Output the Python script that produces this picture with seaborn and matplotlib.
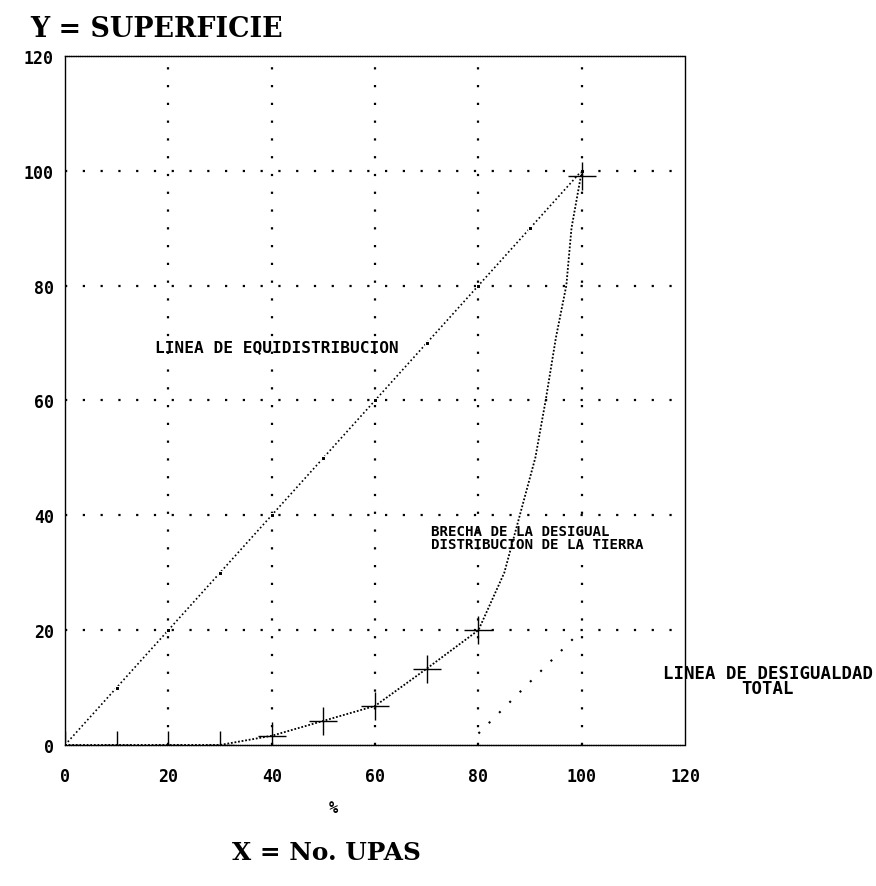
import matplotlib
matplotlib.use("Agg")
import matplotlib.pyplot as plt
import seaborn as sns
import pandas as pd

# ======================
# Data
# ======================
equi_x = [0, 10, 20, 30, 40, 50, 60, 70, 80, 90, 100]
equi_y = [0, 10, 20, 30, 40, 50, 60, 70, 80, 90, 100]

lorenz_x = [0, 10, 20, 30, 40, 50, 60, 70, 80, 85, 88, 91, 93, 95, 97, 98, 100]
lorenz_y = [0, 0, 0, 0, 1.6, 4.2, 6.8, 13.3, 20, 30, 40, 50, 60, 71, 80, 90, 100]

cross_x = [0, 10, 20, 30, 40, 50, 60, 70, 80, 100]
cross_y = [0, 0, 0, 0, 1.6, 4.2, 6.8, 13.3, 20, 99]

total_x = [80, 100]
total_y = [2, 20]

ticks = [0, 20, 40, 60, 80, 100, 120]

sns.set_style("white")
plt.rcParams["font.family"] = ["DejaVu Sans"]
plt.rcParams["text.color"] = "black"
plt.rcParams["xtick.color"] = "black"
plt.rcParams["ytick.color"] = "black"

fig = plt.figure(figsize=(8.76, 8.87), dpi=100)
ax = fig.add_axes([0.0742, 0.159, 0.708, 0.777])

df_equi = pd.DataFrame({"x": equi_x, "y": equi_y})
df_lor = pd.DataFrame({"x": lorenz_x, "y": lorenz_y})
df_tot = pd.DataFrame({"x": total_x, "y": total_y})

# dotted grid
for t in ticks[1:-1]:
    ax.axhline(t, color="black", lw=1.6, ls=(0, (1, 7)), zorder=1)
    ax.axvline(t, color="black", lw=1.6, ls=(0, (1, 7)), zorder=1)

sns.lineplot(data=df_equi, x="x", y="y", ax=ax, color="black", lw=1.2,
             ls=(0, (1, 1.5)), marker="s", markersize=3.5, zorder=3)
sns.lineplot(data=df_lor, x="x", y="y", ax=ax, color="black", lw=1.3,
             ls=(0, (1, 1)), zorder=3, sort=False)
ax.plot(cross_x, cross_y, ls="none", marker="+", markersize=20,
        markeredgewidth=1.0, color="black", zorder=4)
sns.lineplot(data=df_tot, x="x", y="y", ax=ax, color="black", lw=1.5,
             ls=(0, (1, 6)), zorder=3)

ax.set_xlim(0, 120)
ax.set_ylim(0, 120)
ax.set_xticks(ticks)
ax.set_yticks(ticks)
ax.set_xticklabels([str(t) for t in ticks], family="DejaVu Sans Mono",
                   fontsize=12, fontweight="bold")
ax.set_yticklabels([str(t) for t in ticks], family="DejaVu Sans Mono",
                   fontsize=12, fontweight="bold")
ax.tick_params(axis="x", length=0, pad=16)
ax.tick_params(axis="y", length=0, pad=8)
ax.set_xlabel("")
ax.set_ylabel("")
for s in ax.spines.values():
    s.set_color("black")
    s.set_linewidth(1.0)
ax.spines["top"].set_linestyle((0, (1, 0.6)))
ax.spines["bottom"].set_linestyle((0, (1, 0.6)))

mono = dict(family="DejaVu Sans Mono", fontweight="bold", color="black")
ax.text(17.5, 69.3, "LINEA DE EQUIDISTRIBUCION", ha="left", va="center",
        fontsize=11.6, **mono)
ax.text(70.8, 36.1, "BRECHA DE LA DESIGUAL\nDISTRIBUCION DE LA TIERRA",
        ha="left", va="center", linespacing=0.85, fontsize=10.2, **mono)
ax.text(136.0, 11.2, "LINEA DE DESIGUALDAD\nTOTAL", ha="center", va="center",
        linespacing=0.8, clip_on=False, fontsize=12.5, **mono)

fig.text(0.034, 0.967, "Y = SUPERFICIE", family="DejaVu Serif", fontweight="bold",
         fontsize=19.4, ha="left", va="center")
fig.text(0.380, 0.089, "%", family="DejaVu Sans Mono", fontweight="bold",
         fontsize=11, ha="center", va="center")
fig.text(0.265, 0.038, "X = No. UPAS", family="DejaVu Serif", fontweight="bold",
         fontsize=17.8, ha="left", va="center")

fig.savefig("out.png", dpi=100)
